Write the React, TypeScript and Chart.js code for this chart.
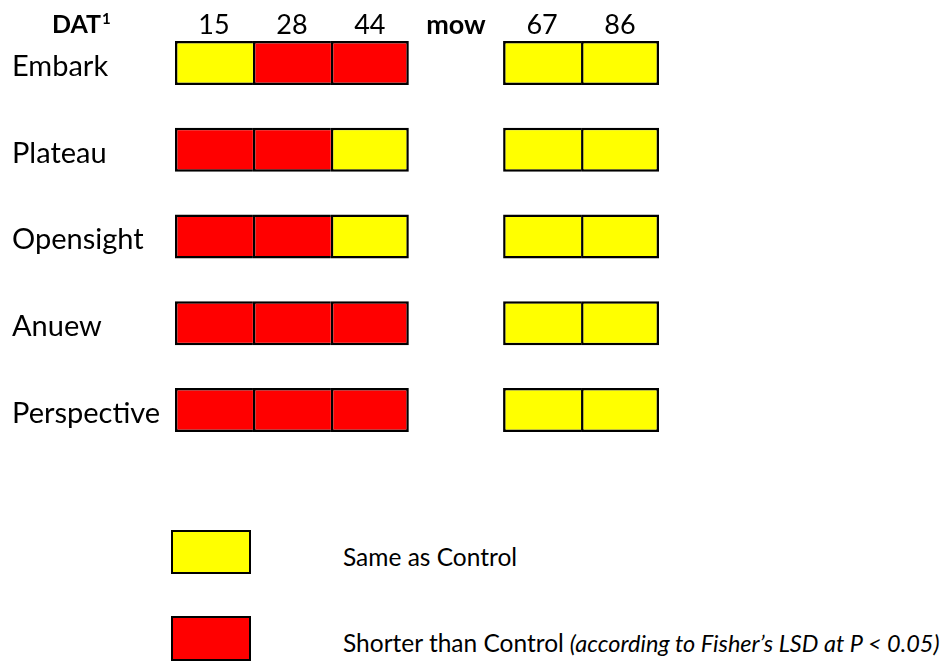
import { useEffect, useRef } from "react";
import { Chart, registerables } from "chart.js";

Chart.register(...registerables);

// ---- data ----
const COLUMNS = ["15", "28", "44", "mow", "67", "86"];
const TREATMENTS = ["Embark", "Plateau", "Opensight", "Anuew", "Perspective"];
const EMBARK = ["same", "shorter", "shorter", null, "same", "same"];
const PLATEAU = ["shorter", "shorter", "same", null, "same", "same"];
const OPENSIGHT = ["shorter", "shorter", "same", null, "same", "same"];
const ANUEW = ["shorter", "shorter", "shorter", null, "same", "same"];
const PERSPECTIVE = ["shorter", "shorter", "shorter", null, "same", "same"];
const RESULTS = [EMBARK, PLATEAU, OPENSIGHT, ANUEW, PERSPECTIVE];
const LEGEND_KEYS = ["same", "shorter"];
const LEGEND_LABELS = ["Same as Control", "Shorter than Control"];
const LEGEND_NOTES = ["", "(according to Fisher’s LSD at P < 0.05)"];

// ---- style / layout ----
const COLORS: Record<string, string> = { same: "#FFFF00", shorter: "#FF0000" };
const SLOT_WIDTHS = [1, 1, 1, 1.21, 1, 1];
const FONT = "Lato, 'Open Sans', sans-serif";
const BORDER = 2.5;

const SLOT_STARTS: number[] = [];
SLOT_WIDTHS.reduce((acc, w, i) => {
  SLOT_STARTS[i] = acc;
  return acc + w;
}, 0);
const TOTAL = SLOT_WIDTHS.reduce((a, b) => a + b, 0);

export default function App() {
  const ref = useRef<HTMLCanvasElement | null>(null);

  useEffect(() => {
    if (!ref.current) return;
    const datasets = COLUMNS.map((col, c) => ({ col, c }))
      .filter(({ col }) => col !== "mow")
      .map(({ col, c }) => {
        const next = COLUMNS[c + 1];
        const last = next === undefined || next === "mow";
        return {
          label: col,
          data: TREATMENTS.map((_, r) =>
            RESULTS[r][c] ? [SLOT_STARTS[c], SLOT_STARTS[c] + 1] : null
          ),
          backgroundColor: TREATMENTS.map((_, r) => COLORS[RESULTS[r][c] as string]),
          borderColor: "#000000",
          borderWidth: { top: BORDER, bottom: BORDER, left: BORDER, right: last ? BORDER : 0 },
          borderSkipped: false,
          inflateAmount: 0,
          grouped: false,
          barThickness: 44,
          clip: false as any,
        };
      });

    const chart = new Chart(ref.current, {
      type: "bar",
      data: { labels: TREATMENTS, datasets: datasets as any },
      options: {
        indexAxis: "y",
        animation: false,
        responsive: true,
        maintainAspectRatio: false,
        events: [],
        layout: { padding: { left: 12, right: 944 - 659, top: 9, bottom: 60 } },
        plugins: { legend: { display: false }, tooltip: { enabled: false } },
        scales: {
          x: {
            type: "linear",
            position: "top",
            min: 0,
            max: TOTAL,
            grid: { display: false, drawTicks: false },
            border: { display: false },
            afterBuildTicks: (axis: any) => {
              axis.ticks = COLUMNS.map((_, i) => ({ value: SLOT_STARTS[i] + SLOT_WIDTHS[i] / 2 }));
            },
            afterFit: (axis: any) => {
              axis.height = 54;
            },
            ticks: {
              autoSkip: false,
              maxRotation: 0,
              padding: 22,
              color: "#000000",
              callback: (_v: any, i: number) => COLUMNS[i],
              font: (ctx: any) => ({
                family: FONT,
                size: 27,
                weight: COLUMNS[ctx.index] === "mow" ? "bold" : "normal",
              }),
            },
          },
          y: {
            type: "category",
            offset: false,
            grid: { display: false, drawTicks: false },
            border: { display: false },
            afterFit: (axis: any) => {
              axis.width = 163;
            },
            ticks: {
              crossAlign: "far",
              labelOffset: 3.5,
              color: "#000000",
              font: { family: FONT, size: 29 },
            },
          },
        },
      },
    });
    return () => chart.destroy();
  }, []);

  return (
    <div style={{ position: "absolute", left: 0, top: 0, width: 944, height: 664, background: "#fff", fontFamily: FONT, color: "#000" }}>
      <div style={{ position: "absolute", left: 0, top: 0, width: 944, height: 470 }}>
        <canvas ref={ref} style={{ display: "block" }} />
      </div>
      <div style={{ position: "absolute", left: 52, top: 8, fontWeight: "bold", fontSize: 25, lineHeight: "30px", whiteSpace: "nowrap" }}>
        DAT
        <span style={{ fontSize: 15, position: "relative", top: -9, marginLeft: 1 }}>1</span>
      </div>
      {LEGEND_KEYS.map((k, i) => (
        <div key={k}>
          <div
            style={{
              position: "absolute",
              left: 171,
              top: i === 0 ? 530 : 616,
              width: 80,
              height: i === 0 ? 44 : 45,
              boxSizing: "border-box",
              border: `${BORDER}px solid #000`,
              background: COLORS[k],
            }}
          />
          <div
            style={{
              position: "absolute",
              left: 343,
              top: (i === 0 ? 557.5 : 644) - 17,
              height: 32,
              lineHeight: "32px",
              fontSize: 24.5,
              whiteSpace: "nowrap",
            }}
          >
            {LEGEND_LABELS[i]}
            {LEGEND_NOTES[i] ? (
              <span style={{ fontStyle: "italic", fontSize: 23.5, marginLeft: 6 }}>{LEGEND_NOTES[i]}</span>
            ) : null}
          </div>
        </div>
      ))}
    </div>
  );
}
